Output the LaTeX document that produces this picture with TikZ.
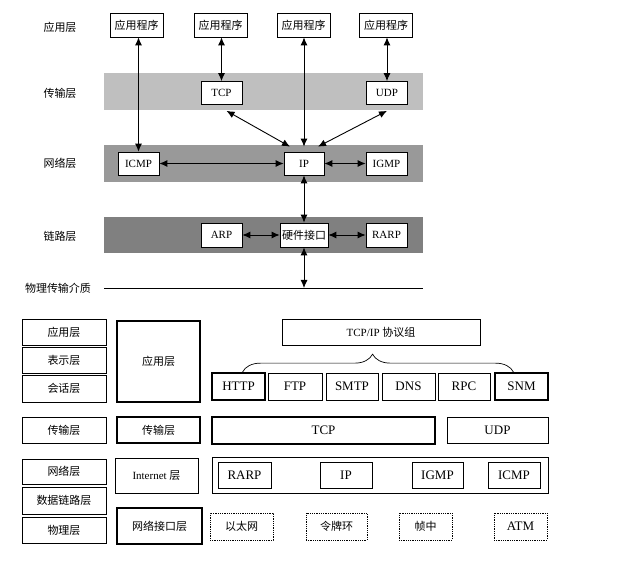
\documentclass[tikz,border=0pt]{standalone}
\usepackage{fontspec}
\setmainfont{Liberation Serif}
\newfontfamily\cjk{Noto Sans CJK SC}
\usetikzlibrary{arrows.meta}
\usetikzlibrary{decorations.pathreplacing}

\begin{document}
\begin{tikzpicture}[x=1pt, y=-1pt, line width=0.7pt, font=\fontsize{11}{13}\selectfont,
  box/.style={draw, fill=white, inner sep=0pt, minimum width=41pt, minimum height=23pt},
  zh/.style={font=\cjk\fontsize{11}{13}\selectfont},
  big/.style={font=\fontsize{13}{15}\selectfont},
  heavy/.style={line width=1.7pt},
  dotbox/.style={box, line width=0.8pt, densely dotted, minimum height=27pt},
  both/.style={line width=0.9pt, {Latex[length=8pt,width=7pt]}-{Latex[length=8pt,width=7pt]}}]

 \useasboundingbox (0,0) rectangle (625,561);

 %bands:
 \fill[black!25] (104,73) rectangle (423,110);
 \fill[black!40] (104,145) rectangle (423,182);
 \fill[black!50] (104,217) rectangle (423,253);
 \draw (104,288) -- (423,288);
 \coordinate (medium) at (304,288);

 %layer names:
 \node[zh] (lApp) at (60,27) {应用层};
 \node[zh] (lTra) at (60,93) {传输层};
 \node[zh] (lNet) at (60,163) {网络层};
 \node[zh] (lLink) at (60,236) {链路层};
 \node[zh] (lPhy) at (58,288) {物理传输介质};

 %top stack:
 \node[box, zh, minimum width=53pt, minimum height=24pt] (app1) at (136.5,25) {应用程序};
 \node[box, zh, minimum width=53pt, minimum height=24pt] (app2) at (220.5,25) {应用程序};
 \node[box, zh, minimum width=53pt, minimum height=24pt] (app3) at (303.5,25) {应用程序};
 \node[box, zh, minimum width=53pt, minimum height=24pt] (app4) at (386,25) {应用程序};
 \node[box] (tcp) at (221.5,93) {TCP};
 \node[box] (udp) at (387,93) {UDP};
 \node[box] (icmp) at (138.5,163.5) {ICMP};
 \node[box, minimum width=40pt] (ip) at (304,163.5) {IP};
 \node[box] (igmp) at (386.5,163.5) {IGMP};
 \node[box, minimum height=24pt] (arp) at (221.5,235) {ARP};
 \node[box, zh, minimum width=48pt, minimum height=24pt] (hw) at (304,235) {硬件接口};
 \node[box, minimum height=24pt] (rarp) at (386.5,235) {RARP};

 \draw[both] (icmp.north |- app1.south) -- (icmp.north);
 \draw[both] (tcp.north |- app2.south) -- (tcp.north);
 \draw[both] (ip.north |- app3.south) -- ([yshift=5pt]ip.north);
 \draw[both] (udp.north |- app4.south) -- (udp.north);
 \draw[both] ([xshift=5pt,yshift=-6pt]tcp.south) -- ([xshift=-14pt,yshift=5pt]ip.north);
 \draw[both] ([yshift=-6pt]udp.south) -- ([xshift=14pt,yshift=5pt]ip.north);
 \draw[both] (icmp.east) -- (ip.west);
 \draw[both] (ip.east) -- (igmp.west);
 \draw[both] (ip.south) -- (hw.north);
 \draw[both] (arp.east) -- (hw.west);
 \draw[both] (hw.east) -- (rarp.west);
 \draw[both] (hw.south) -- (medium);

 %OSI column:
 \node[box, zh, minimum width=84pt, minimum height=26pt] (osiApp) at (64,332) {应用层};
 \node[box, zh, minimum width=84pt, minimum height=26pt] (osiPre) at (64,360) {表示层};
 \node[box, zh, minimum width=84pt, minimum height=27pt] (osiSes) at (64,388.5) {会话层};
 \node[box, zh, minimum width=84pt, minimum height=26pt] (osiTra) at (64,430) {传输层};
 \node[box, zh, minimum width=84pt, minimum height=25pt] (osiNet) at (64,471.5) {网络层};
 \node[box, zh, minimum width=84pt, minimum height=27pt] (osiDat) at (64,500.5) {数据链路层};
 \node[box, zh, minimum width=84pt, minimum height=26pt] (osiPhy) at (64,530) {物理层};

 %TCP/IP column:
 \node[box, zh, heavy, minimum width=83pt, minimum height=81pt] (tApp) at (158.5,361.5) {应用层};
 \node[box, zh, heavy, minimum width=83pt, minimum height=26pt] (tTra) at (158.5,430) {传输层};
 \node[box, minimum width=83pt, minimum height=35pt] (tInt) at (156.5,475.5) {Internet {\cjk 层}};
 \node[box, zh, heavy, minimum width=85pt, minimum height=36pt] (tLink) at (159.5,526) {网络接口层};

 %protocol suite:
 \node[box, minimum width=198pt, minimum height=26pt] (suite) at (381,332) {TCP/IP {\cjk 协议组}};
 \node[box, big, heavy, minimum width=53pt, minimum height=27pt] (http) at (238.5,386.5) {HTTP};
 \node[box, big, minimum width=54pt, minimum height=27pt] (ftp) at (295,386.5) {FTP};
 \node[box, big, minimum width=52pt, minimum height=27pt] (smtp) at (352,386.5) {SMTP};
 \node[box, big, minimum width=53pt, minimum height=27pt] (dns) at (408.5,386.5) {DNS};
 \node[box, big, minimum width=52pt, minimum height=27pt] (rpc) at (464,386.5) {RPC};
 \node[box, big, heavy, minimum width=53pt, minimum height=27pt] (snm) at (521.5,386.5) {SNM};
 \draw[decorate, decoration={brace, amplitude=18pt, aspect=0.48}] ([xshift=4pt]http.north) -- ([xshift=-8pt]snm.north);

 \node[box, big, heavy, minimum width=223pt, minimum height=27pt] (tcpB) at (323.5,430.5) {TCP};
 \node[box, big, minimum width=101pt, minimum height=26pt] (udpB) at (497.5,430) {UDP};

 \node[box, minimum width=336pt, minimum height=36pt] (netB) at (380,475) {};
 \node[box, big, minimum width=53pt, minimum height=26pt] (rarpB) at (244.5,475) {RARP};
 \node[box, big, minimum width=52pt, minimum height=26pt] (ipB) at (346,475) {IP};
 \node[box, big, minimum width=51pt, minimum height=26pt] (igmpB) at (437.5,475) {IGMP};
 \node[box, big, minimum width=52pt, minimum height=26pt] (icmpB) at (514,475) {ICMP};

 \node[dotbox, zh, minimum width=63pt] (eth) at (241.5,526.5) {以太网};
 \node[dotbox, zh, minimum width=61pt] (token) at (336.5,526.5) {令牌环};
 \node[dotbox, zh, minimum width=53pt] (frame) at (425.5,526.5) {帧中};
 \node[dotbox, big, minimum width=53pt] (atm) at (520.5,526.5) {ATM};

\end{tikzpicture}
\end{document}
